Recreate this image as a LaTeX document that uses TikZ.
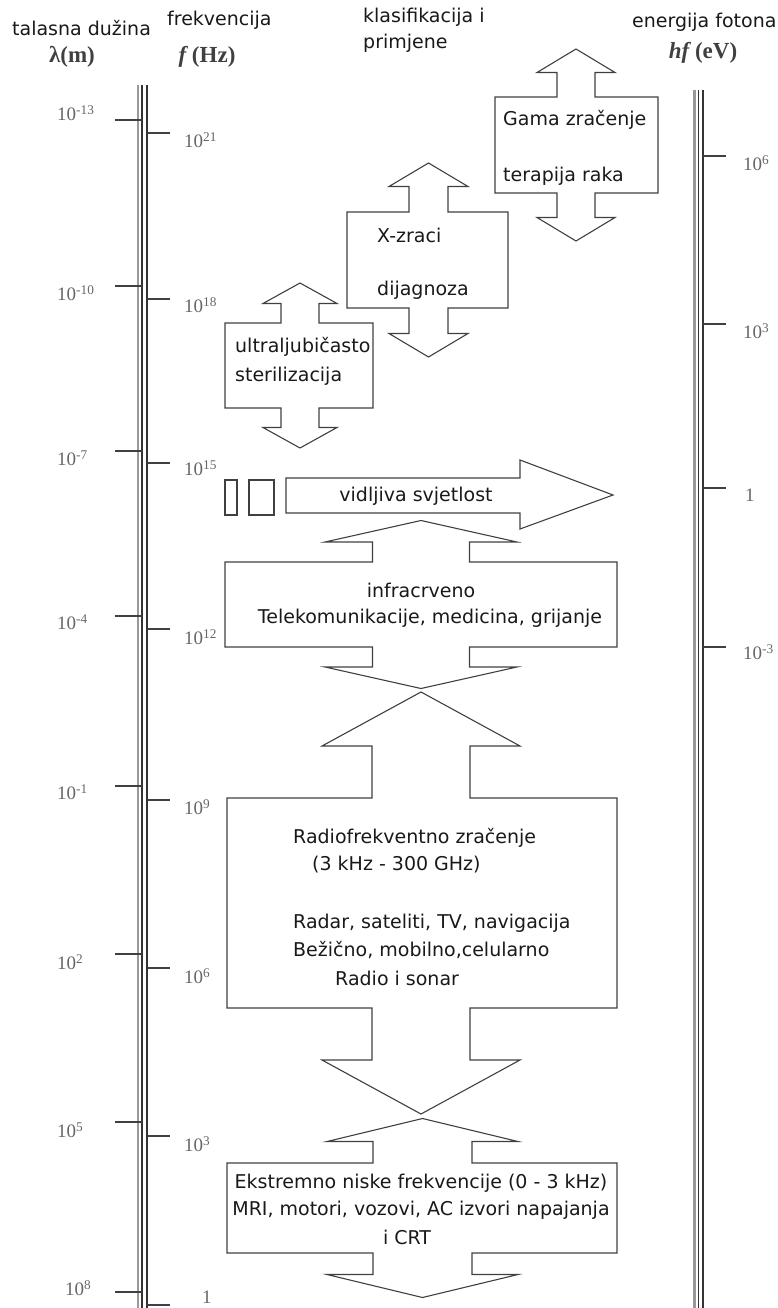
\documentclass[tikz,border=0pt]{standalone}
\usepackage{fontspec}
\setmainfont{DejaVu Sans}
\newfontfamily\numfont{Liberation Serif}
\newcommand{\dblarrow}[9]{%
  \draw[boxline] (#2,#4) -- ({#1-#6},#4) -- ({#1-#6},{#4-#8}) -- ({#1-#7},{#4-#8})
    -- (#1,{#4-#8-#9}) -- ({#1+#7},{#4-#8}) -- ({#1+#6},{#4-#8}) -- ({#1+#6},#4)
    -- (#3,#4) -- (#3,#5) -- ({#1+#6},#5) -- ({#1+#6},{#5+#8}) -- ({#1+#7},{#5+#8})
    -- (#1,{#5+#8+#9}) -- ({#1-#7},{#5+#8}) -- ({#1-#6},{#5+#8}) -- ({#1-#6},#5)
    -- (#2,#5) -- cycle;}
\tikzset{
  boxline/.style={draw=black!75,line width=1.1pt,line join=miter},
  boxtext/.style={font=\fontsize{19}{27}\selectfont,text=black!90,inner sep=0pt},
  scalenum/.style={font=\numfont\fontsize{19}{22}\selectfont,text=black!60,inner sep=0pt,anchor=west},
  unit/.style={font=\numfont\bfseries\fontsize{23}{25}\selectfont,text=black!75,inner sep=0pt},
  axisline/.style={line width=1.2pt,black!80},
  tickline/.style={line width=1.3pt,black!75}
}

\begin{document}
\begin{tikzpicture}[x=1pt,y=-1pt]
  \useasboundingbox (0,0) rectangle (778,1308);
  % headings
  \node[boxtext,anchor=west] (hlam) at (12,28) {talasna dužina};
  \node[unit] (ulam) at (72,57) {λ(m)};
  \node[boxtext,anchor=west] (hfreq) at (167,20) {frekvencija};
  \node[unit] (ufreq) at (207,57) {\textit{f}\,(Hz)};
  \node[boxtext,anchor=west] (hklas) at (363,17) {klasifikacija i};
  \node[boxtext,anchor=west] (hprim) at (363,43) {primjene};
  \node[boxtext,anchor=west] (henerg) at (632,22) {energija fotona};
  \node[unit] (uenerg) at (703,53) {\textit{hf}\,(eV)};

  % left scale
  \draw[line width=2.5pt,black!40] (138,85) -- (138,1308);
  \draw[axisline] (142,85) -- (142,1308);
  \draw[axisline] (147,85) -- (147,1308);
  \foreach \y in {120,286,451,616,786,954,1122,1292}
    \draw[tickline] (115,\y) -- (142,\y);
  \foreach \y in {133,299,463,629,800,968,1136,1305}
    \draw[tickline] (147,\y) -- (170,\y);
  \foreach \y/\e [count=\i] in {113/-13,293/-10,458/-7,622/-4,792/-1,962/2,1130/5}
    \node[scalenum] (lam\i) at (57,\y) {10\textsuperscript{\e}};
  \node[scalenum] (lam8) at (65,1288) {10\textsuperscript{8}};
  \foreach \y/\e [count=\i] in {140/21,305/18,468/15,637/12,807/9,976/6,1144/3}
    \node[scalenum] (fr\i) at (184,\y) {10\textsuperscript{\e}};
  \node[scalenum] (fr8) at (202,1297) {1};

  % right scale
  \draw[line width=2.5pt,black!40] (694.5,90) -- (694.5,1308);
  \draw[axisline] (698.5,90) -- (698.5,1308);
  \draw[axisline] (703,90) -- (703,1308);
  \foreach \y in {156,324,488,647}
    \draw[tickline] (703,\y) -- (726,\y);
  \node[scalenum] (en1) at (743,163) {10\textsuperscript{6}};
  \node[scalenum] (en2) at (743,331) {10\textsuperscript{3}};
  \node[scalenum] (en3) at (745,495) {1};
  \node[scalenum] (en4) at (743,652) {10\textsuperscript{-3}};

  % bands
  \dblarrow{576}{495}{658}{97}{193}{19}{39}{24.5}{23.5}
  \node[boxtext,anchor=west] (gama) at (503,120) {Gama zračenje};
  \node[boxtext,anchor=west] (gamause) at (503,176) {terapija raka};

  \dblarrow{428.5}{347}{508}{212}{308}{19.5}{39.5}{25.5}{23.5}
  \node[boxtext,anchor=west] (xray) at (377,235) {X-zraci};
  \node[boxtext,anchor=west] (xrayuse) at (377,290) {dijagnoza};

  \dblarrow{300}{225}{373}{323}{408}{19}{37}{19.5}{20.5}
  \node[boxtext,anchor=west] (uv) at (235,347) {ultraljubičasto};
  \node[boxtext,anchor=west] (uvuse) at (235,376) {sterilizacija};

  \draw[boxline] (225,480) rectangle (237,515);
  \draw[boxline] (249,480) rectangle (274,515);
  \draw[boxline] (286,478) -- (520,478) -- (520,460) -- (613,495) -- (520,529)
    -- (520,513) -- (286,513) -- cycle;
  \node[boxtext] (vis) at (416,496) {vidljiva svjetlost};

  \dblarrow{421}{225}{617}{562}{647}{48.5}{96}{20}{21.5}
  \node[boxtext] (ir) at (421,590) {infracrveno};
  \node[boxtext] (iruse) at (430,618) {Telekomunikacije, medicina, grijanje};

  \dblarrow{421}{227}{617}{798}{1008}{49}{99}{52}{54}
  \node[boxtext,anchor=west] (radio) at (293,838) {Radiofrekventno zračenje};
  \node[boxtext,anchor=west] (radiorange) at (312,865) {(3 kHz - 300 GHz)};
  \node[boxtext,anchor=west] (radiouse1) at (293,923) {Radar, sateliti, TV, navigacija};
  \node[boxtext,anchor=west] (radiouse2) at (293,950) {Bežično, mobilno,celularno};
  \node[boxtext,anchor=west] (radiouse3) at (335,978) {Radio i sonar};

  \dblarrow{422.5}{227}{617}{1163}{1253}{49.5}{95.5}{21.5}{23}
  \node[boxtext] (elf) at (421,1183) {Ekstremno niske frekvencije (0 - 3 kHz)};
  \node[boxtext] (elfuse1) at (421,1210) {MRI, motori, vozovi, AC izvori napajanja};
  \node[boxtext] (elfuse2) at (407,1237) {i CRT};
\end{tikzpicture}
\end{document}
